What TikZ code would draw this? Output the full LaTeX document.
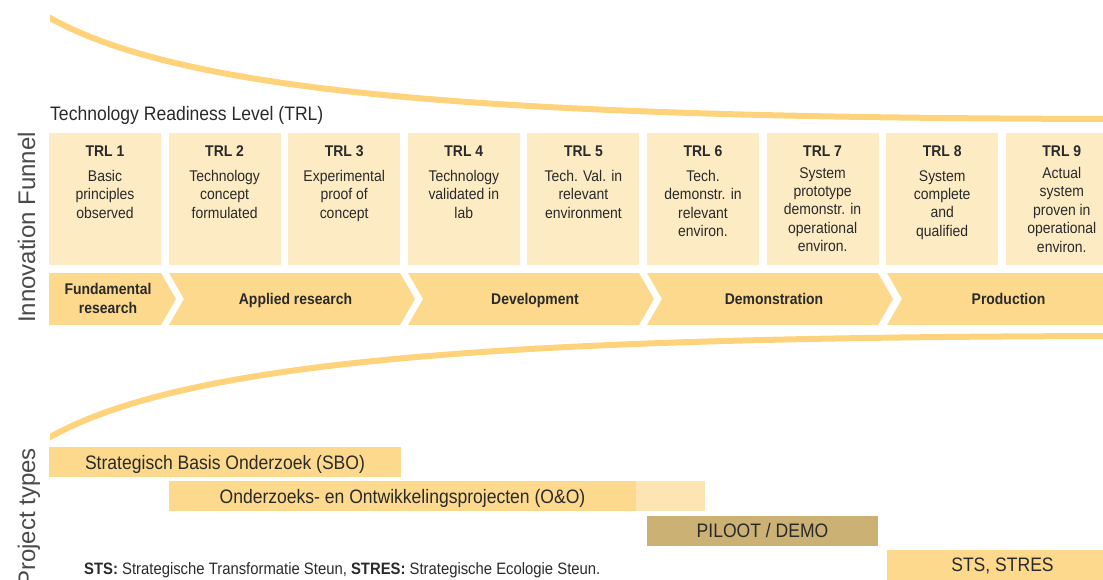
\documentclass[tikz,border=0pt]{standalone}
\usepackage{fontspec}
\setmainfont[FakeStretch=0.9]{Liberation Sans}
\newfontfamily\plainsans{Liberation Sans}
\definecolor{funnel}{HTML}{FED37C}
\definecolor{trlfill}{HTML}{FDEBC3}
\definecolor{phasefill}{HTML}{FDD98D}
\definecolor{oolight}{HTML}{FDE5B3}
\definecolor{pilootfill}{HTML}{CBB173}
\definecolor{ink}{HTML}{2A2A2A}
\definecolor{sidegray}{HTML}{4A4A4A}
\begin{document}
\begin{tikzpicture}[x=1pt,y=-1pt,
  funnelline/.style={draw=funnel,line width=6pt},
  trlbox/.style={fill=trlfill,minimum width=112pt,minimum height=132pt,inner sep=0pt},
  trlhead/.style={font=\fontsize{15.5}{18.4}\selectfont\bfseries,text=ink,inner sep=0pt},
  trlbody/.style={font=\fontsize{15.5}{18.4}\selectfont,text=ink,align=center,inner sep=0pt,anchor=north},
  phaselabel/.style={font=\fontsize{15.5}{18.4}\selectfont\bfseries,text=ink,align=center,inner sep=0pt},
  barbox/.style={minimum height=30pt,inner sep=0pt,text height=14pt,text depth=0pt,
     font=\fontsize{19.5}{22}\selectfont,text=ink},
  sidelabel/.style={font=\plainsans\fontsize{24}{28}\selectfont,text=sidegray,rotate=90,anchor=base,inner sep=0pt},
  chevron/.style={fill=phasefill}
]
\useasboundingbox (0,0) rectangle (1103,579);
\clip (0,0) rectangle (1103,579);

% funnel curves
\begin{scope}
\clip (50,0) rectangle (1103,579);
\draw[funnelline] (44,14.5) .. controls (180,95) and (500,118) .. (1120,119);
\draw[funnelline] (44,440.5) .. controls (180,360) and (500,337) .. (1120,336);
\end{scope}

% heading
\node[anchor=base west,inner sep=0pt,font=\fontsize{19.5}{22}\selectfont,text=ink] (trltitle) at (50,120) {Technology Readiness Level (TRL)};

% TRL boxes
\foreach \i/\body/\ty in {
  1/{Basic\\principles\\observed}/170,
  2/{Technology\\concept\\formulated}/170,
  3/{Experimental\\proof of\\concept}/170,
  4/{Technology\\validated in\\lab}/170,
  5/{Tech. Val. in\\relevant\\environment}/170,
  6/{Tech.\\demonstr. in\\relevant\\environ.}/170,
  7/{System\\prototype\\demonstr. in\\operational\\environ.}/167,
  8/{System\\complete\\and\\qualified}/170,
  9/{Actual\\system\\proven in\\operational\\environ.}/167}{
  \node[trlbox] (trl\i) at ({105+(\i-1)*119.6},199) {};
  \node[trlhead] (trlh\i) at ({105+(\i-1)*119.6},151) {TRL \i};
  \node[trlbody] (trlb\i) at ({105+(\i-1)*119.6},\ty) {\body};
}

% phase chevrons
\fill[chevron] (49,273) -- (161,273) -- (176,299) -- (161,325) -- (49,325) -- cycle;
\foreach \l/\r in {169/400, 408/639, 647/878, 887/1118}{
  \fill[chevron] (\l,273) -- (\r,273) -- (\r+15,299) -- (\r,325) -- (\l,325) -- (\l+15,299) -- cycle;
}
\node[phaselabel] (ph1) at (108,298.5) {Fundamental\\research};
\node[phaselabel,anchor=base] (ph2) at (295.5,304) {Applied research};
\node[phaselabel,anchor=base] (ph3) at (535,304) {Development};
\node[phaselabel,anchor=base] (ph4) at (774,304) {Demonstration};
\node[phaselabel,anchor=base] (ph5) at (1008.5,304) {Production};

% side labels
\node[sidelabel] (innov) at (35,227.5) {Innovation Funnel};
\node[sidelabel] (ptypes) at (35,517.5) {Project types};

% project type bars
\node[barbox,fill=phasefill,minimum width=352pt] (sbo) at (225,462) {Strategisch Basis Onderzoek (SBO)};
\fill[oolight] (636,481) rectangle (705,511);
\node[barbox,fill=phasefill,minimum width=467pt] (oeno) at (402.5,496) {Onderzoeks- en Ontwikkelingsprojecten (O\&O)};
\node[barbox,fill=pilootfill,minimum width=231pt] (piloot) at (762.5,530.5) {PILOOT / DEMO};
\node[barbox,fill=phasefill,minimum width=231pt] (sts) at (1002.5,564.5) {STS, STRES};

% footnote
\node[anchor=base west,inner sep=0pt,font=\fontsize{16.5}{19}\selectfont,text=ink] (note) at (84,574)
  {\textbf{STS:} Strategische Transformatie Steun, \textbf{STRES:} Strategische Ecologie Steun.};
\end{tikzpicture}
\end{document}
